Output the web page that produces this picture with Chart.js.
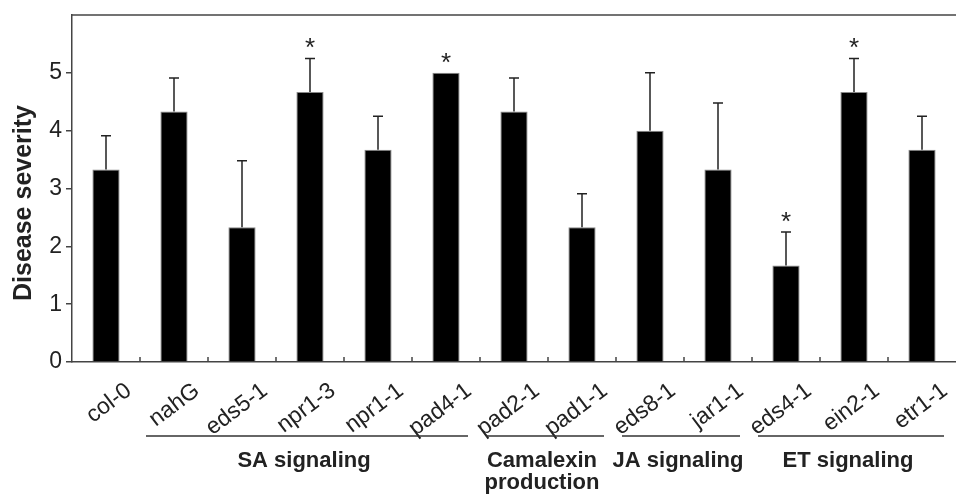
<!DOCTYPE html>
<html>
<head>
<meta charset="utf-8">
<script src="https://cdn.jsdelivr.net/npm/chart.js@4.4.1/dist/chart.umd.min.js"></script>
<style>
  html, body { margin: 0; padding: 0; background: #fff; }
  #wrap { width: 956px; height: 497px; }
</style>
</head>
<body>
<div id="wrap"><canvas id="chart" width="956" height="497"></canvas></div>
<script>
// Data
const strains = ['col-0', 'nahG', 'eds5-1', 'npr1-3', 'npr1-1', 'pad4-1', 'pad2-1', 'pad1-1', 'eds8-1', 'jar1-1', 'eds4-1', 'ein2-1', 'etr1-1'];
const severity = [3.33, 4.33, 2.33, 4.67, 3.67, 5.0, 4.33, 2.33, 4.0, 3.33, 1.67, 4.67, 3.67];
const errors = [0.58, 0.58, 1.15, 0.58, 0.58, 0, 0.58, 0.58, 1.0, 1.15, 0.58, 0.58, 0.58];
const significant = [false, false, false, true, false, true, false, false, false, false, true, true, false];
const yTicks = [0, 1, 2, 3, 4, 5];

// Pathway groups (first / last strain index)
const groupNames = [['SA signaling'], ['Camalexin', 'production'], ['JA signaling'], ['ET signaling']];
const groupStart = [1, 6, 8, 10];
const groupEnd = [5, 7, 9, 12];

const FONT = '"Liberation Sans", Arial, Helvetica, sans-serif';
const INK = '#222';
const AXIS = '#444';

const extras = {
  id: 'extras',
  afterDatasetsDraw(chart) {
    const ctx = chart.ctx;
    const x = chart.scales.x, y = chart.scales.y;
    const area = chart.chartArea;
    const half = (x.getPixelForValue(1) - x.getPixelForValue(0)) / 2;
    ctx.save();

    // top frame line
    ctx.strokeStyle = AXIS;
    ctx.lineWidth = 1.5;
    ctx.beginPath();
    ctx.moveTo(area.left, area.top);
    ctx.lineTo(area.right, area.top);
    ctx.stroke();

    // x tick marks between categories, pointing up
    ctx.beginPath();
    for (let i = 1; i < strains.length; i++) {
      const px = x.getPixelForValue(i) - half;
      ctx.moveTo(px, area.bottom);
      ctx.lineTo(px, area.bottom - 5);
    }
    ctx.stroke();

    // error bars (upper only) and significance stars
    ctx.strokeStyle = INK;
    ctx.fillStyle = INK;
    ctx.textAlign = 'center';
    ctx.textBaseline = 'alphabetic';
    ctx.font = '26px ' + FONT;
    severity.forEach((v, i) => {
      const px = x.getPixelForValue(i);
      const base = y.getPixelForValue(v);
      const top = y.getPixelForValue(v + errors[i]);
      if (errors[i] > 0) {
        ctx.beginPath();
        ctx.moveTo(px, base);
        ctx.lineTo(px, top);
        ctx.moveTo(px - 5, top);
        ctx.lineTo(px + 5, top);
        ctx.stroke();
      }
      if (significant[i]) ctx.fillText('*', px, top - 2);
    });

    // rotated strain labels
    ctx.font = '23px ' + FONT;
    ctx.textAlign = 'right';
    ctx.textBaseline = 'top';
    strains.forEach((s, i) => {
      const px = x.getPixelForValue(i);
      ctx.save();
      ctx.translate(px + 16, area.bottom + 17);
      ctx.rotate(-37 * Math.PI / 180);
      ctx.fillText(s, 0, 0);
      ctx.restore();
    });

    // group lines and labels
    ctx.strokeStyle = '#333';
    ctx.lineWidth = 1.5;
    ctx.font = 'bold 22px ' + FONT;
    ctx.textAlign = 'center';
    ctx.textBaseline = 'alphabetic';
    groupNames.forEach((lines, g) => {
      const x0 = x.getPixelForValue(groupStart[g]) - half + 6;
      const x1 = Math.min(x.getPixelForValue(groupEnd[g]) + half - 12, chart.width - 8);
      ctx.beginPath();
      ctx.moveTo(x0, area.bottom + 74);
      ctx.lineTo(x1, area.bottom + 74);
      ctx.stroke();
      lines.forEach((t, k) => ctx.fillText(t, (x0 + x1) / 2 - 3, area.bottom + 105 + k * 22));
    });

    // y axis title
    ctx.save();
    ctx.translate(24, 203);
    ctx.rotate(-Math.PI / 2);
    ctx.textBaseline = 'middle';
    ctx.font = 'bold 25px ' + FONT;
    ctx.fillText('Disease severity', 0, 0);
    ctx.restore();

    ctx.restore();
  }
};

new Chart(document.getElementById('chart'), {
  type: 'bar',
  data: {
    labels: strains,
    datasets: [{
      data: severity,
      backgroundColor: '#000',
      borderColor: '#888',
      borderWidth: 1,
      barPercentage: 0.4,
      categoryPercentage: 1
    }]
  },
  options: {
    responsive: false,
    animation: false,
    layout: { padding: { top: 15, right: 0, bottom: 135, left: 0 } },
    plugins: { legend: { display: false }, tooltip: { enabled: false } },
    scales: {
      x: {
        afterFit: (axis) => { axis.height = 0; axis.paddingLeft = 0; axis.paddingRight = 0; },
        ticks: { display: false },
        grid: { display: false },
        border: { display: true, color: AXIS, width: 1.5 }
      },
      y: {
        min: 0,
        max: 6,
        afterBuildTicks: (axis) => { axis.ticks = yTicks.map(v => ({ value: v })); },
        afterFit: (axis) => { axis.width = 72; axis.paddingTop = 0; axis.paddingBottom = 0; },
        ticks: { padding: 4, color: INK, font: { family: FONT, size: 23 } },
        grid: { drawOnChartArea: false, drawTicks: true, tickLength: 6, color: AXIS, lineWidth: 1.5 },
        border: { display: true, color: AXIS, width: 1.5 }
      }
    }
  },
  plugins: [extras]
});
</script>
</body>
</html>
